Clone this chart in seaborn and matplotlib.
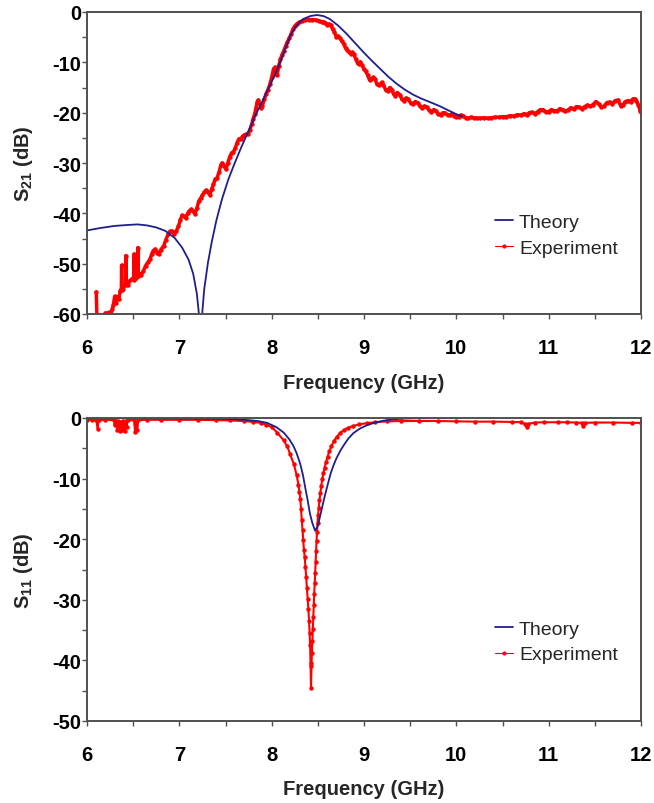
import matplotlib
matplotlib.use("Agg")
import matplotlib.pyplot as plt
import seaborn as sns
import pandas as pd
from matplotlib.lines import Line2D
from matplotlib.ticker import MultipleLocator

# ---------------- data ----------------
s21_theory_f = [6.00, 6.15, 6.30, 6.45, 6.55, 6.65, 6.75, 6.85, 6.95, 7.03, 7.10, 7.15,
                7.19, 7.215, 7.228, 7.245, 7.27, 7.31, 7.35, 7.40, 7.46, 7.53, 7.60,
                7.675, 7.75, 7.82, 7.90, 7.97, 8.04, 8.10, 8.15, 8.20, 8.26, 8.34, 8.42,
                8.49, 8.56, 8.63, 8.72, 8.81, 8.90, 8.99, 9.08, 9.17, 9.26, 9.35, 9.44,
                9.53, 9.62, 9.715, 9.82, 9.92, 10.00, 10.06]
s21_theory_db = [-43.4, -42.9, -42.5, -42.3, -42.2, -42.4, -42.8, -43.5, -44.9, -46.8, -49.2, -52.0,
                 -56.0, -60.5, -80.0, -60.5, -55.0, -49.8, -45.8, -41.5, -37.3, -33.3, -30.0,
                 -26.7, -23.6, -20.7, -17.7, -15.0, -12.3, -9.6, -7.2, -4.8, -2.9, -1.4, -0.8,
                 -0.6, -0.8, -1.4, -2.7, -4.3, -6.1, -7.9, -9.6, -11.2, -12.8, -14.2, -15.4,
                 -16.4, -17.2, -17.9, -18.7, -19.6, -20.3, -20.7]

s21_exp_f = [6.100, 6.110, 6.150, 6.190, 6.200, 6.220, 6.240, 6.260, 6.275, 6.285, 6.300, 6.315,
             6.330, 6.345, 6.360, 6.372, 6.375, 6.378, 6.390, 6.405, 6.418, 6.421, 6.424, 6.440,
             6.460, 6.485, 6.505, 6.509, 6.513, 6.530, 6.548, 6.551, 6.554, 6.565, 6.585, 6.610,
             6.635, 6.665, 6.685, 6.700, 6.720, 6.740, 6.760, 6.775, 6.800, 6.830, 6.855, 6.880,
             6.900, 6.920, 6.945, 6.965, 6.990, 7.010, 7.030, 7.050, 7.070, 7.090, 7.110, 7.130,
             7.150, 7.170, 7.190, 7.210, 7.230, 7.250, 7.270, 7.290, 7.310, 7.330, 7.350, 7.370,
             7.390, 7.410, 7.430, 7.450, 7.465, 7.485, 7.505, 7.525, 7.545, 7.565, 7.585, 7.605,
             7.625, 7.645, 7.665, 7.685, 7.705, 7.725, 7.745, 7.765, 7.785, 7.800, 7.815, 7.830,
             7.845, 7.855, 7.870, 7.885, 7.900, 7.920, 7.940, 7.960, 7.980, 8.000, 8.020, 8.035,
             8.050, 8.060, 8.075, 8.095, 8.110, 8.130, 8.150, 8.170, 8.190, 8.210, 8.230, 8.250,
             8.270, 8.300, 8.330, 8.360, 8.400, 8.440, 8.480, 8.510, 8.540, 8.560, 8.580, 8.600,
             8.620, 8.640, 8.660, 8.680, 8.700, 8.720, 8.740, 8.760, 8.780, 8.800, 8.820, 8.840,
             8.860, 8.875, 8.890, 8.910, 8.930, 8.945, 8.960, 8.980, 9.000, 9.020, 9.040, 9.060,
             9.080, 9.100, 9.120, 9.140, 9.165, 9.190, 9.210, 9.235, 9.255, 9.280, 9.300, 9.320,
             9.340, 9.360, 9.385, 9.410, 9.430, 9.455, 9.480, 9.505, 9.530, 9.555, 9.580, 9.605,
             9.630, 9.655, 9.680, 9.705, 9.730, 9.755, 9.780, 9.805, 9.830, 9.855, 9.880, 9.905,
             9.930, 9.955, 9.975, 10.000, 10.025, 10.050, 10.075, 10.100, 10.130, 10.160, 10.190,
             10.220, 10.260, 10.300, 10.340, 10.380, 10.420, 10.460, 10.500, 10.540, 10.580,
             10.620, 10.660, 10.700, 10.730, 10.760, 10.790, 10.820, 10.850, 10.880, 10.910,
             10.940, 10.970, 11.000, 11.030, 11.060, 11.090, 11.120, 11.150, 11.180, 11.210,
             11.240, 11.270, 11.300, 11.330, 11.360, 11.390, 11.420, 11.450, 11.480, 11.510,
             11.540, 11.570, 11.600, 11.630, 11.660, 11.690, 11.720, 11.750, 11.780, 11.800,
             11.830, 11.860, 11.890, 11.910, 11.930, 11.950, 11.970, 11.990, 12.000]
s21_exp_db = [-55.6, -62.0, -63.0, -60.2, -59.8, -59.9, -59.7, -60.1, -59.0, -58.2, -56.5, -57.8,
              -56.6, -57.0, -55.4, -55.0, -50.3, -55.2, -55.0, -54.3, -54.0, -48.4, -54.2, -54.3,
              -53.5, -53.0, -53.2, -48.1, -53.0, -52.8, -52.5, -46.8, -52.4, -52.0, -52.2, -51.5,
              -50.4, -49.6, -49.0, -48.1, -47.4, -47.1, -47.8, -48.0, -47.2, -46.5, -45.2, -44.1,
              -43.6, -43.6, -44.1, -43.6, -42.6, -41.3, -40.4, -40.6, -40.9, -40.0, -39.5, -39.2,
              -39.6, -40.1, -39.0, -37.6, -37.0, -36.4, -35.8, -35.4, -35.8, -36.3, -35.2, -34.2,
              -33.2, -32.9, -31.8, -30.4, -30.0, -30.6, -31.2, -30.0, -28.8, -28.0, -27.8, -27.1,
              -26.0, -25.2, -25.2, -24.7, -24.4, -24.3, -24.2, -23.4, -22.2, -21.2, -20.3, -19.0,
              -17.8, -17.5, -18.3, -19.0, -18.6, -17.3, -16.2, -15.4, -14.4, -13.0, -11.3, -11.0,
              -12.3, -12.6, -10.8, -9.4, -8.6, -7.8, -6.8, -6.0, -5.2, -4.4, -3.4, -2.8,
              -2.4, -2.0, -1.8, -1.6, -1.5, -1.5, -1.6, -1.7, -2.0, -1.9, -2.1, -2.5,
              -2.4, -2.6, -3.4, -4.0, -4.9, -4.8, -5.2, -5.8, -6.3, -7.2, -7.6, -7.9,
              -8.3, -8.0, -8.4, -9.3, -10.2, -10.4, -9.9, -10.6, -11.4, -11.8, -12.6, -13.5,
              -13.3, -13.0, -13.4, -14.3, -14.6, -14.0, -14.5, -15.5, -15.6, -15.0, -15.5, -16.3,
              -16.6, -16.0, -16.4, -17.3, -17.6, -17.1, -17.3, -18.1, -18.3, -17.8, -18.0, -18.7,
              -19.1, -18.7, -18.9, -19.5, -19.8, -19.4, -19.7, -20.3, -20.4, -20.0, -20.1, -20.5,
              -20.4, -20.2, -20.6, -20.9, -20.8, -20.5, -20.6, -21.0, -21.1, -20.9, -21.0,
              -21.1, -21.1, -21.0, -21.1, -21.0, -20.9, -20.9, -20.8, -20.8, -20.6,
              -20.7, -20.4, -20.5, -20.2, -20.4, -20.0, -19.9, -20.2, -19.8, -19.4,
              -19.4, -19.9, -19.8, -19.4, -19.6, -19.7, -19.2, -19.4, -19.7, -19.5,
              -19.0, -19.3, -18.8, -18.9, -19.2, -18.8, -18.5, -18.7, -18.4, -17.8,
              -18.2, -18.9, -18.7, -18.0, -17.9, -18.3, -17.6, -17.5, -18.6, -18.5,
              -17.8, -17.6, -17.8, -17.3, -17.2, -17.6, -18.4, -19.6, -19.9]

s11_theory_f = [6.0, 6.5, 7.0, 7.4, 7.6, 7.75, 7.85, 7.95, 8.05, 8.13, 8.19, 8.235, 8.27, 8.31,
                8.34, 8.36, 8.39, 8.415, 8.44, 8.47, 8.50, 8.52, 8.55, 8.58, 8.61, 8.64, 8.67,
                8.70, 8.74, 8.78, 8.83, 8.885, 8.95, 9.03, 9.12, 9.21, 9.30, 9.40, 9.55, 9.75,
                10.0]
s11_theory_db = [-0.02, -0.03, -0.06, -0.12, -0.2, -0.35, -0.5, -0.8, -1.5, -2.4, -3.5, -4.6, -5.8,
                 -7.6, -9.5, -11.2, -13.6, -15.8, -17.3, -18.6, -17.8, -16.5, -14.5, -12.6, -10.8,
                 -9.1, -7.8, -6.7, -5.5, -4.5, -3.4, -2.5, -1.8, -1.2, -0.75, -0.45, -0.25, -0.12,
                 -0.05, -0.02, -0.01]

s11_exp_f = [6.000, 6.050, 6.100, 6.115, 6.125, 6.200, 6.290, 6.300, 6.310, 6.330, 6.340, 6.355,
             6.365, 6.380, 6.390, 6.410, 6.420, 6.430, 6.440, 6.510, 6.520, 6.530, 6.545, 6.555,
             6.650, 6.800, 7.000, 7.200, 7.400, 7.550, 7.700, 7.800, 7.880, 7.940, 8.000, 8.060,
             8.130, 8.170, 8.200, 8.240, 8.270, 8.290, 8.300, 8.310, 8.318, 8.326, 8.334, 8.342,
             8.350, 8.358, 8.366, 8.374, 8.382, 8.390, 8.398, 8.405, 8.411, 8.416, 8.421, 8.426,
             8.431, 8.436, 8.441, 8.446, 8.451, 8.456, 8.461, 8.466, 8.471, 8.476, 8.481, 8.486,
             8.491, 8.497, 8.503, 8.510, 8.518, 8.527, 8.537, 8.548, 8.560, 8.573, 8.588, 8.605,
             8.625, 8.648, 8.675, 8.705, 8.740, 8.780, 8.830, 8.885, 8.950, 9.030, 9.120, 9.250,
             9.400, 9.600, 9.800, 10.000, 10.200, 10.400, 10.600, 10.700, 10.740, 10.760, 10.780,
             10.850, 10.950, 11.100, 11.200, 11.300, 11.360, 11.375, 11.390, 11.500, 11.700,
             11.900, 12.000]
s11_exp_db = [-0.25, -0.3, -0.3, -1.8, -0.35, -0.3, -0.35, -1.2, -0.45, -2.0, -0.5, -2.2,
              -0.6, -2.0, -0.45, -2.2, -0.5, -1.5, -0.35, -0.35, -2.3, -0.5, -2.0, -0.35,
              -0.3, -0.3, -0.3, -0.3, -0.35, -0.4, -0.5, -0.65, -0.8, -1.1, -1.5, -2.4,
              -3.7, -4.7, -6.0, -7.6, -9.4, -11.0, -12.2, -13.3, -15.0, -16.9, -18.4, -20.2,
              -21.8, -23.0, -24.6, -26.3, -28.1, -29.9, -31.6, -33.5, -35.4, -37.4, -40.5, -44.6,
              -41.0, -38.8, -36.8, -34.8, -32.8, -30.8, -29.0, -27.3, -25.6, -23.8, -22.0, -20.3,
              -18.8, -17.3, -16.0, -14.8, -13.6, -12.4, -11.2, -10.1, -9.1, -8.2, -7.3, -6.4,
              -5.5, -4.6, -3.8, -3.1, -2.5, -2.0, -1.6, -1.3, -1.05, -0.85, -0.7, -0.55,
              -0.5, -0.5, -0.5, -0.55, -0.6, -0.6, -0.65, -0.7, -0.95, -1.5, -0.95,
              -0.75, -0.7, -0.7, -0.7, -0.75, -0.8, -1.3, -0.8, -0.75, -0.75,
              -0.8, -0.8]

x_ticks = [6, 7, 8, 9, 10, 11, 12]
series_names = ["Theory", "Experiment"]
x_label = "Frequency (GHz)"
y_labels = [r"S$_{\mathbf{21}}$ (dB)", r"S$_{\mathbf{11}}$ (dB)"]

# ---------------- style ----------------
sns.set_theme(style="white")
plt.rcParams["font.family"] = ["Liberation Sans", "DejaVu Sans"]
plt.rcParams["axes.unicode_minus"] = False
plt.rcParams["mathtext.fontset"] = "custom"
plt.rcParams["mathtext.rm"] = "Liberation Sans"
plt.rcParams["mathtext.bf"] = "Liberation Sans:bold"

BLUE = "#1f1f8a"
RED = "#ff0000"
SPINE = "#505050"
TICKFS = 14.5
LABFS = 14.5

fig = plt.figure(figsize=(6.54, 8.04), dpi=100)
ax1 = fig.add_axes([87 / 654, 1 - 315 / 804, 554 / 654, 302 / 804])
ax2 = fig.add_axes([87 / 654, 1 - 722 / 804, 554 / 654, 303 / 804])

df21t = pd.DataFrame({"f": s21_theory_f, "v": s21_theory_db})
df21e = pd.DataFrame({"f": s21_exp_f, "v": s21_exp_db})
df11t = pd.DataFrame({"f": s11_theory_f, "v": s11_theory_db})
df11e = pd.DataFrame({"f": s11_exp_f, "v": s11_exp_db})

sns.lineplot(data=df21e, x="f", y="v", ax=ax1, color=RED, lw=2.5, sort=False,
             estimator=None, marker="o", markersize=3.2, markeredgewidth=0, legend=False)
sns.lineplot(data=df21t, x="f", y="v", ax=ax1, color=BLUE, lw=1.3, sort=False,
             estimator=None, legend=False)

sns.lineplot(data=df11e, x="f", y="v", ax=ax2, color=RED, lw=1.5, sort=False,
             estimator=None, marker="o", markersize=3.2, markeredgewidth=0, legend=False)
sns.lineplot(data=df11t, x="f", y="v", ax=ax2, color=BLUE, lw=1.3, sort=False,
             estimator=None, legend=False)


def style(ax, ylo, ylab, ylab_y):
    ax.set_xlim(6, 12)
    ax.set_ylim(ylo, 0)
    ax.set_xticks(x_ticks)
    ax.xaxis.set_minor_locator(MultipleLocator(0.5))
    ax.yaxis.set_major_locator(MultipleLocator(10))
    ax.yaxis.set_minor_locator(MultipleLocator(5))
    ax.tick_params(axis="both", which="both", direction="out", length=3.3, width=1.0,
                   color=SPINE, bottom=True, left=True, top=False, right=False,
                   labelsize=TICKFS, labelcolor="black")
    ax.tick_params(axis="x", which="major", pad=14)
    ax.tick_params(axis="y", which="major", pad=0.6)
    for lbl in ax.get_xticklabels() + ax.get_yticklabels():
        lbl.set_fontweight("bold")
    for sp in ax.spines.values():
        sp.set_color(SPINE)
        sp.set_linewidth(1.4)
        sp.set_visible(True)
    ax.set_xlabel(x_label, fontsize=LABFS, fontweight="bold")
    ax.set_ylabel(ylab, fontsize=LABFS, fontweight="bold")
    ax.xaxis.set_label_coords(0.5, ylab_y)
    ax.yaxis.set_label_coords(-0.094, 0.5)
    ax.grid(False)
    handles = [Line2D([], [], color=BLUE, lw=1.3),
               Line2D([], [], color=RED, lw=0.8, marker="o", markersize=3.0,
                      markeredgewidth=0)]
    ax.legend(handles, series_names, loc="center left", bbox_to_anchor=(0.7365, 0.262),
              frameon=False, fontsize=14, handlelength=0.93, handletextpad=0.3,
              labelspacing=0.42, borderpad=0, borderaxespad=0, numpoints=1)


style(ax1, -60, y_labels[0], -0.195)
style(ax2, -50, y_labels[1], -0.191)

fig.savefig("out.png", dpi=100)
